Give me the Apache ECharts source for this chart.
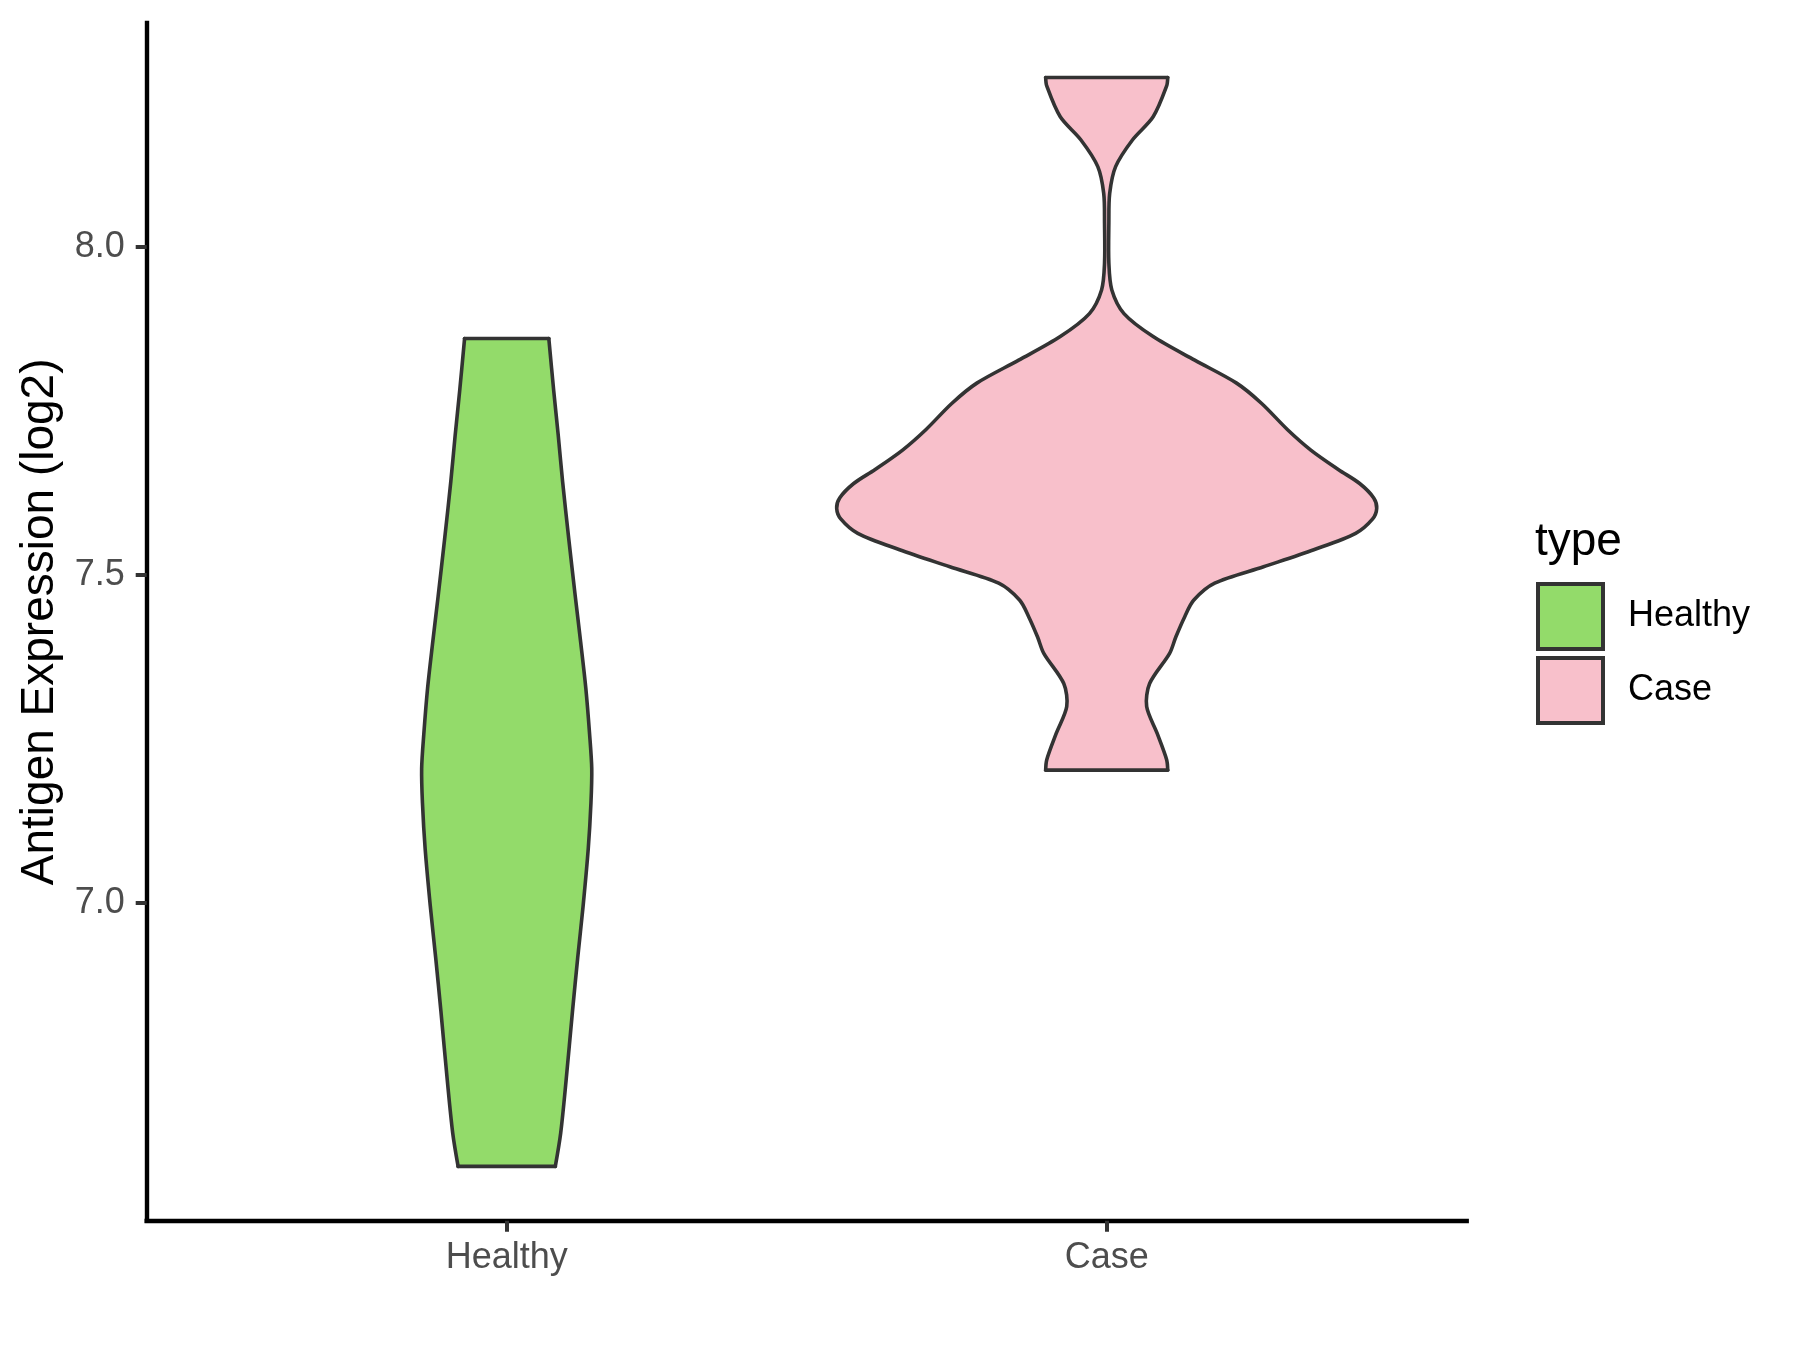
<!DOCTYPE html>
<html>
<head>
<meta charset="utf-8">
<script src="https://cdn.jsdelivr.net/npm/echarts@6/dist/echarts.min.js"></script>
<style>
html,body{margin:0;padding:0;background:#fff;}
#chart{width:1800px;height:1350px;}
</style>
</head>
<body>
<div id="chart"></div>
<script>
// ---- data ----
const categories = ['Healthy', 'Case'];
const yTicks = [7.0, 7.5, 8.0];

// Healthy violin: expression values (top to bottom) and relative density (half-width)
const healthyValues = [7.860, 7.781, 7.712, 7.642, 7.554, 7.467, 7.397, 7.327, 7.257, 7.204, 7.152,
  7.082, 6.995, 6.916, 6.836, 6.729, 6.649, 6.598];
const healthyDensity = [0.156, 0.174, 0.191, 0.207, 0.230, 0.254, 0.274, 0.293, 0.307, 0.315, 0.312,
  0.302, 0.283, 0.263, 0.244, 0.220, 0.200, 0.180];

// Case violin
const caseValues = [8.258, 8.245, 8.198, 8.163, 8.122, 8.081, 8.036, 7.975, 7.934, 7.898, 7.863, 7.827,
  7.792, 7.761, 7.721, 7.690, 7.660, 7.639, 7.617, 7.601, 7.585, 7.563, 7.538, 7.512, 7.487, 7.461,
  7.436, 7.405, 7.380, 7.334, 7.299, 7.258, 7.218, 7.202];
const caseDensity = [0.226, 0.222, 0.172, 0.096, 0.033, 0.011, 0.008, 0.008, 0.019, 0.064, 0.172, 0.326,
  0.481, 0.574, 0.670, 0.756, 0.859, 0.937, 0.989, 1.000, 0.985, 0.922, 0.767, 0.581, 0.400, 0.322,
  0.289, 0.256, 0.233, 0.159, 0.148, 0.187, 0.222, 0.226];

const yMin = 6.5152, yMax = 8.341;

// ---- style ----
const colors = {Healthy: '#93DB6A', Case: '#F8C0CB'};
const strokeColor = '#333333';
const strokeW = 3.6;
const font = "'Liberation Sans', Arial, sans-serif";

function makeRender(pos, vals, dens, fill) {
  return function (params, api) {
    const band = api.size([1, 0])[0];
    const maxHalf = 0.45 * band;
    const left = [], right = [];
    for (let i = 0; i < vals.length; i++) {
      const p = api.coord([pos, vals[i]]);
      const w = dens[i] * maxHalf;
      left.push([p[0] - w, p[1]]);
      right.push([p[0] + w, p[1]]);
    }
    const poly = left.concat(right.slice().reverse());
    const n = vals.length - 1;
    const lineStyle = {stroke: strokeColor, lineWidth: strokeW, fill: null, lineJoin: 'round', lineCap: 'round'};
    return {
      type: 'group',
      children: [
        {type: 'polygon', shape: {points: poly}, style: {fill: fill, stroke: null}},
        {type: 'polyline', shape: {points: left, smooth: 0.3}, style: lineStyle},
        {type: 'polyline', shape: {points: right, smooth: 0.3}, style: lineStyle},
        {type: 'line', shape: {x1: left[0][0], y1: left[0][1], x2: right[0][0], y2: right[0][1]}, style: lineStyle},
        {type: 'line', shape: {x1: left[n][0], y1: left[n][1], x2: right[n][0], y2: right[n][1]}, style: lineStyle}
      ]
    };
  };
}

const chart = echarts.init(document.getElementById('chart'), null, {renderer: 'canvas'});
chart.setOption({
  backgroundColor: '#ffffff',
  animation: false,
  title: {
    text: 'type', left: 1530, top: 514,
    textStyle: {fontFamily: font, fontSize: 46, fontWeight: 'normal', color: '#000'}
  },
  legend: {
    orient: 'vertical', left: 1531, top: 577,
    itemWidth: 65, itemHeight: 65, itemGap: 5,
    selectedMode: false,
    textStyle: {fontFamily: font, fontSize: 36, color: '#000', padding: [0, 0, 0, 20]},
    data: categories.map(c => ({
      name: c, icon: 'rect',
      itemStyle: {color: colors[c], borderColor: strokeColor, borderWidth: 4}
    }))
  },
  grid: {left: 146.7, right: 333.3, top: 23, bottom: 129.3, containLabel: false},
  xAxis: {
    type: 'value', min: 0.4, max: 2.6,
    splitLine: {show: false},
    axisLine: {show: true, lineStyle: {color: '#000', width: 4.4, cap: 'square'}},
    axisTick: {show: true, customValues: [1, 2], length: 11, lineStyle: {color: strokeColor, width: 4}},
    axisLabel: {
      customValues: [1, 2], margin: 19,
      fontFamily: font, fontSize: 36, color: '#4D4D4D',
      formatter: v => categories[Math.round(v) - 1] || ''
    }
  },
  yAxis: {
    type: 'value', min: yMin, max: yMax,
    splitLine: {show: false},
    name: 'Antigen Expression (log2)', nameLocation: 'middle', nameGap: 82,
    nameTextStyle: {fontFamily: font, fontSize: 46, color: '#000'},
    axisLine: {show: true, lineStyle: {color: '#000', width: 4.4, cap: 'square'}},
    axisTick: {show: true, customValues: yTicks, length: 11, lineStyle: {color: strokeColor, width: 4}},
    axisLabel: {
      customValues: yTicks, margin: 22,
      fontFamily: font, fontSize: 36, color: '#4D4D4D',
      formatter: v => Number(v).toFixed(1)
    }
  },
  series: [
    {
      name: 'Healthy', type: 'custom', data: [[1, healthyValues[0]]],
      itemStyle: {color: colors.Healthy},
      renderItem: makeRender(1, healthyValues, healthyDensity, colors.Healthy)
    },
    {
      name: 'Case', type: 'custom', data: [[2, caseValues[0]]],
      itemStyle: {color: colors.Case},
      renderItem: makeRender(2, caseValues, caseDensity, colors.Case)
    }
  ]
});
</script>
</body>
</html>
